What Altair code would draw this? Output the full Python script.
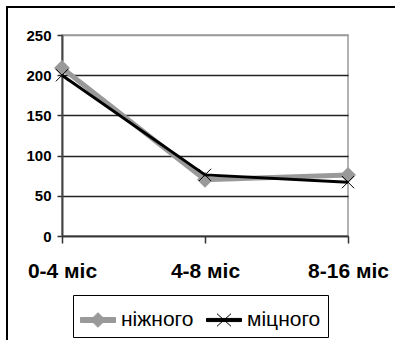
import altair as alt
import pandas as pd

periods = ["0-4 міс", "4-8 міс", "8-16 міс"]
series_names = ["ніжного", "міцного"]
nizhnoho = [209, 70, 76]
mitsnoho = [200, 76, 67]
y_ticks = [0, 50, 100, 150, 200, 250]

GRAY = "#999999"
BLACK = "#000000"
FONT = "Liberation Sans"

rows = []
for p, v in zip(periods, nizhnoho):
    rows.append({"period": p, "series": series_names[0], "value": v})
for p, v in zip(periods, mitsnoho):
    rows.append({"period": p, "series": series_names[1], "value": v})
df = pd.DataFrame(rows)

x_enc = alt.X("period:N", sort=periods, scale=alt.Scale(type="point", padding=0),
              axis=alt.Axis(title=None, labelAngle=0, labelFont=FONT, labelFontSize=21,
                            labelFontWeight="bold", labelColor="#000", labelPadding=17,
                            tickSize=7, tickColor="#333", tickWidth=1.5,
                            domainColor="#333", domainWidth=1.5, grid=False))
y_enc = alt.Y("value:Q", scale=alt.Scale(domain=[0, 250], nice=False, zero=True),
              axis=alt.Axis(title=None, values=y_ticks, labelFont=FONT, labelFontSize=15,
                            labelFontWeight="bold", labelColor="#000", labelPadding=6,
                            tickSize=5, tickColor="#333", tickWidth=1.5,
                            domainColor="#444", domainWidth=2,
                            grid=True,
                            gridColor={"condition": {"test": "datum.value == 250", "value": GRAY},
                                       "value": "#222"},
                            gridWidth=1.3))

gray_path = "M-1,-0.143H1V0.143H-1ZM0,-0.42L0.42,0L0,0.42L-0.42,0Z"
black_path = "M-1,-0.09H1V0.09H-1ZM-0.4,-0.36L0.4,0.36M-0.4,0.36L0.4,-0.36"

legend = alt.Legend(
    title=None, orient="none", legendX=11, legendY=260, direction="horizontal",
    strokeColor="#000", padding=7, labelFont=FONT, labelFontSize=21,
    labelColor="#000", symbolSize=1225, labelOffset=5, columnPadding=10,
    symbolOpacity=1, symbolStrokeWidth=1,
)

base = alt.Chart(df)

frame = alt.Chart(pd.DataFrame({"a": [0]})).mark_rect(
    filled=False, stroke="#000", strokeWidth=2
).encode(x=alt.value(-55), y=alt.value(-28), x2=alt.value(420), y2=alt.value(420))

legend_layer = base.transform_filter("false").mark_point(
    filled=True, size=1225, strokeWidth=1, opacity=1
).encode(
    fill=alt.Fill("series:N", scale=alt.Scale(domain=series_names, range=[GRAY, BLACK]), legend=legend),
    stroke=alt.Stroke("series:N", scale=alt.Scale(domain=series_names, range=[GRAY, BLACK]), legend=legend),
    shape=alt.Shape("series:N", scale=alt.Scale(domain=series_names, range=[gray_path, black_path]), legend=legend),
)

gray_line = base.transform_filter(alt.datum.series == series_names[0]).mark_line(
    strokeWidth=5, color=GRAY).encode(x=x_enc, y=y_enc)
gray_pts = base.transform_filter(alt.datum.series == series_names[0]).mark_point(
    shape="diamond", filled=True, size=256, color=GRAY, opacity=1).encode(x=x_enc, y=y_enc)
black_line = base.transform_filter(alt.datum.series == series_names[1]).mark_line(
    strokeWidth=3, color=BLACK).encode(x=x_enc, y=y_enc)
black_pts = base.transform_filter(alt.datum.series == series_names[1]).mark_point(
    shape="M-1,-1L1,1M-1,1L1,-1", filled=False, size=150, color=BLACK, strokeWidth=1,
    opacity=1).encode(x=x_enc, y=y_enc)

chart = alt.layer(frame, gray_line, gray_pts, black_line, black_pts, legend_layer).properties(
    width=286, height=201,
    padding={"left": 62, "top": 35, "right": 47, "bottom": 104},
    autosize=alt.AutoSizeParams(type="none"),
    background="#ffffff",
).configure_view(stroke=GRAY, strokeWidth=1.5)

chart.save("out.html", embed_options={"renderer": "svg", "actions": False})
